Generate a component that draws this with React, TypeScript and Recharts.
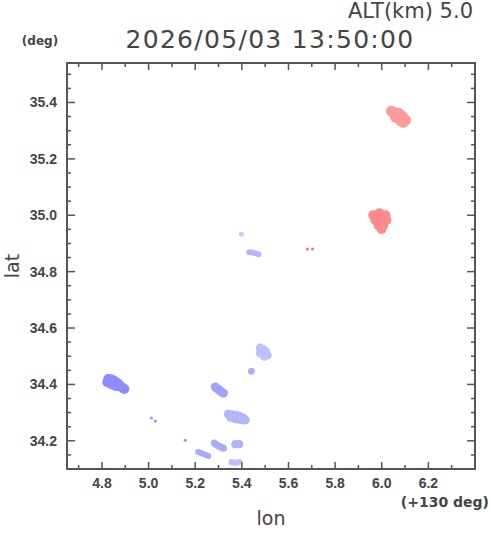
import React from "react";
import { ScatterChart, Scatter, XAxis, YAxis, ReferenceArea } from "recharts";

// echo clusters, [lon offset from 130 deg, lat]
const redNorth = [
  [6.05, 35.366], [6.072, 35.362], [6.089, 35.351], [6.102, 35.337], [6.08, 35.337],
  [6.059, 35.348], [6.042, 35.369], [6.093, 35.33], [6.072, 35.348], [6.06, 35.358],
  [6.082, 35.355], [6.095, 35.342], [6.085, 35.334],
];
const redMid = [
  [5.964, 35.0], [5.99, 35.007], [6.016, 35.0], [5.973, 34.983], [5.999, 34.986],
  [6.02, 34.983], [5.986, 34.965], [6.007, 34.965], [5.999, 34.951], [5.977, 34.995],
  [6.004, 34.997], [5.993, 34.975],
];
const redDots = [[5.681, 34.88], [5.703, 34.88]];

const blueA = [[5.398, 34.933]];
const blueB = [[5.432, 34.869], [5.445, 34.868], [5.458, 34.865], [5.471, 34.862]];
const blueC = [
  [5.479, 34.529], [5.49, 34.524], [5.501, 34.518], [5.497, 34.5], [5.509, 34.504],
  [5.479, 34.511], [5.49, 34.51],
];
const blueD = [[5.441, 34.447]];
const blueE = [
  [4.827, 34.419], [4.838, 34.418], [4.848, 34.415], [4.857, 34.41], [4.866, 34.405],
  [4.875, 34.398], [4.883, 34.391], [4.89, 34.387], [4.896, 34.384], [4.84, 34.401],
  [4.85, 34.398], [4.861, 34.394], [4.823, 34.408], [4.832, 34.41],
];
const blueF = [[5.286, 34.391], [5.295, 34.385], [5.303, 34.38], [5.312, 34.374], [5.321, 34.369]];
const blueG = [
  [5.342, 34.295], [5.353, 34.293], [5.364, 34.291], [5.375, 34.29], [5.385, 34.288],
  [5.395, 34.285], [5.406, 34.281], [5.415, 34.274], [5.351, 34.284], [5.364, 34.281],
  [5.377, 34.277], [5.392, 34.276], [5.404, 34.274],
];
const blueH = [[5.012, 34.281], [5.029, 34.27]];
const blueI = [[5.157, 34.202]];
const blueJ = [[5.282, 34.192], [5.292, 34.186], [5.303, 34.181], [5.313, 34.177], [5.321, 34.174]];
const blueK = [[5.372, 34.188], [5.381, 34.189], [5.389, 34.188]];
const blueL = [[5.213, 34.16], [5.224, 34.157], [5.235, 34.153], [5.246, 34.15], [5.256, 34.146]];
const blueM = [[5.355, 34.125], [5.364, 34.123], [5.372, 34.121], [5.381, 34.123], [5.389, 34.125]];

const lonTicks = [4.7, 4.8, 4.9, 5.0, 5.1, 5.2, 5.3, 5.4, 5.5, 5.6, 5.7, 5.8, 5.9, 6.0, 6.1, 6.2, 6.3];
const latTicks = [
  34.15, 34.2, 34.25, 34.3, 34.35, 34.4, 34.45, 34.5, 34.55, 34.6, 34.65, 34.7, 34.75,
  34.8, 34.85, 34.9, 34.95, 35.0, 35.05, 35.1, 35.15, 35.2, 35.25, 35.3, 35.35, 35.4,
  35.45, 35.5,
];

const toPts = (arr: number[][]) => arr.map(([lon, lat]) => ({ lon, lat }));

const clusters = [
  { data: redNorth, fill: "#ff9a9a", r: 5.5 },
  { data: redMid, fill: "#ff8888", r: 5 },
  { data: redDots, fill: "#ff7070", r: 1.5 },
  { data: blueA, fill: "#c8c8ff", r: 2.5 },
  { data: blueB, fill: "#b4b4ff", r: 3 },
  { data: blueC, fill: "#c0c0ff", r: 4.5 },
  { data: blueD, fill: "#b0b0ff", r: 3.5 },
  { data: blueE, fill: "#8c8cff", r: 5 },
  { data: blueF, fill: "#a0a0ff", r: 4.5 },
  { data: blueG, fill: "#b4b4ff", r: 4.5 },
  { data: blueH, fill: "#9090ff", r: 1.5 },
  { data: blueI, fill: "#9090ff", r: 1.5 },
  { data: blueJ, fill: "#a8a8ff", r: 3.5 },
  { data: blueK, fill: "#b0b0ff", r: 4 },
  { data: blueL, fill: "#a8a8ff", r: 3 },
  { data: blueM, fill: "#c0c0ff", r: 3 },
];

const W = 490;
const H = 533;
const PLOT_W = 408;
const PLOT_H = 406;
const INK = "#444";
const FRAME = "#555";

const LonTick = (props: any) => {
  const { x, y, payload } = props;
  const v = payload.value;
  const major = Math.round(v * 10) % 2 === 0;
  const len = major ? 7 : 4;
  return (
    <g>
      <line x1={x} y1={y} x2={x} y2={y - len} stroke={FRAME} strokeWidth={1.5} />
      <line x1={x} y1={y - PLOT_H} x2={x} y2={y - PLOT_H + len} stroke={FRAME} strokeWidth={1.5} />
      {major && (
        <text x={x} y={y + 19} textAnchor="middle" fill={INK}
          style={{ fontFamily: "Liberation Sans", fontWeight: 700, fontSize: 14 }}>
          {v.toFixed(1)}
        </text>
      )}
    </g>
  );
};

const LatTick = (props: any) => {
  const { x, y, payload } = props;
  const v = payload.value;
  const major = Math.round(v * 100) % 20 === 0;
  const len = major ? 8 : 4;
  return (
    <g>
      <line x1={x} y1={y} x2={x + len} y2={y} stroke={FRAME} strokeWidth={1.5} />
      <line x1={x + PLOT_W} y1={y} x2={x + PLOT_W - len} y2={y} stroke={FRAME} strokeWidth={1.5} />
      {major && (
        <text x={x - 10} y={y + 5} textAnchor="end" fill={INK}
          style={{ fontFamily: "Liberation Sans", fontWeight: 700, fontSize: 14 }}>
          {v.toFixed(1)}
        </text>
      )}
    </g>
  );
};

export default function App() {
  return (
    <div style={{ position: "absolute", left: 0, top: 0, width: W, height: H, background: "#fff" }}>
      <ScatterChart width={W} height={H} margin={{ top: 63, right: 15, bottom: 34, left: 7 }}>
        <XAxis
          type="number"
          dataKey="lon"
          domain={[4.65, 6.4]}
          ticks={lonTicks}
          interval={0}
          height={30}
          tickSize={0}
          tickMargin={0}
          axisLine={false}
          tickLine={false}
          tick={<LonTick />}
          allowDataOverflow
        />
        <YAxis
          type="number"
          dataKey="lat"
          domain={[34.1, 35.54]}
          ticks={latTicks}
          interval={0}
          width={60}
          tickSize={0}
          tickMargin={0}
          axisLine={false}
          tickLine={false}
          tick={<LatTick />}
          allowDataOverflow
        />
        <ReferenceArea x1={4.65} x2={6.4} y1={34.1} y2={35.54} fill="none" stroke={FRAME} strokeWidth={2} />
        {clusters.map((c, i) => (
          <Scatter
            key={i}
            data={toPts(c.data)}
            fill={c.fill}
            isAnimationActive={false}
            shape={(p: any) => <circle cx={p.cx} cy={p.cy} r={c.r} fill={c.fill} />}
          />
        ))}
      </ScatterChart>
      <svg width={W} height={H} style={{ position: "absolute", left: 0, top: 0, pointerEvents: "none" }}>
        <text x={473} y={18} textAnchor="end" fill={INK} style={{ fontFamily: "DejaVu Sans", fontSize: 21 }}>
          ALT(km) 5.0
        </text>
        <text x={270} y={48} textAnchor="middle" fill={INK}
          style={{ fontFamily: "DejaVu Sans", fontSize: 25, letterSpacing: 1.3 }}>
          2026/05/03 13:50:00
        </text>
        <text x={40} y={45} textAnchor="middle" fill={INK}
          style={{ fontFamily: "DejaVu Sans", fontWeight: 700, fontSize: 12 }}>
          (deg)
        </text>
        <text x={489} y={507} textAnchor="end" fill={INK}
          style={{ fontFamily: "DejaVu Sans", fontWeight: 700, fontSize: 14 }}>
          (+130 deg)
        </text>
        <text x={271} y={525} textAnchor="middle" fill={INK} style={{ fontFamily: "DejaVu Sans", fontSize: 19 }}>
          lon
        </text>
        <text x={19} y={266} textAnchor="middle" fill={INK} transform="rotate(-90 19 266)"
          style={{ fontFamily: "DejaVu Sans", fontSize: 19 }}>
          lat
        </text>
      </svg>
    </div>
  );
}
